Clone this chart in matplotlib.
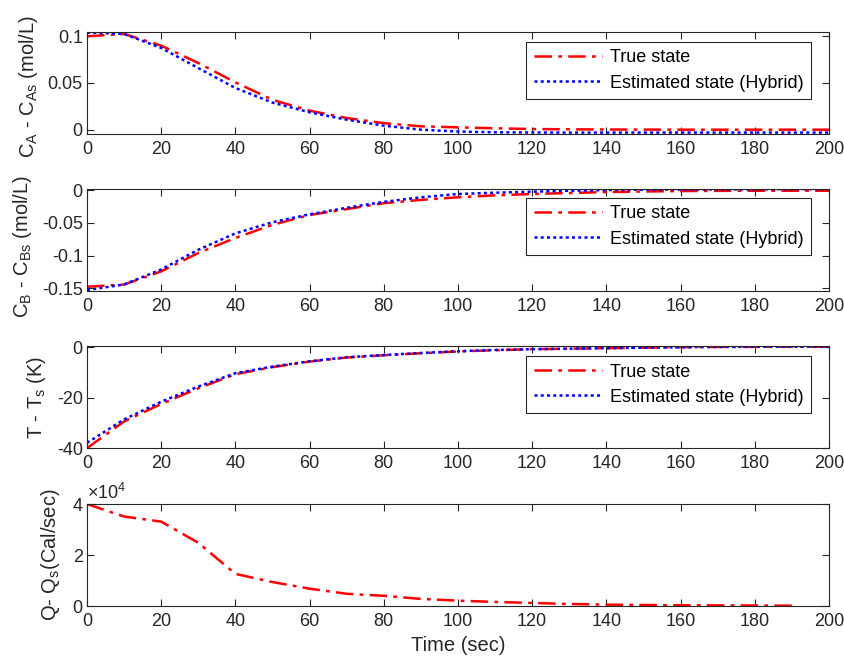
import numpy as np
import matplotlib
matplotlib.use('Agg')
import matplotlib.pyplot as plt

plt.rcParams['font.family'] = ['Liberation Sans', 'DejaVu Sans']
plt.rcParams['mathtext.fontset'] = 'custom'
plt.rcParams['mathtext.rm'] = 'Liberation Sans'
plt.rcParams['mathtext.it'] = 'Liberation Sans'
plt.rcParams['axes.unicode_minus'] = False

t = np.arange(0, 201, 10)
t_q = np.arange(0, 191, 10)

ca_true = [0.100, 0.1025, 0.090, 0.0714, 0.0507, 0.032, 0.0204, 0.0125, 0.007, 0.0036, 0.0025,
           0.0015, 0.0007, 0.0004, 0.0002, 0.0001, 0.0, 0.0, 0.0, 0.0, 0.0]
ca_est = [0.104, 0.1025, 0.0875, 0.066, 0.0446, 0.029, 0.0186, 0.0107, 0.0043, 0.0, -0.002,
          -0.0028, -0.003, -0.0031, -0.0031, -0.0031, -0.0031, -0.0031, -0.0031, -0.0031, -0.0031]

cb_true = [-0.1475, -0.144, -0.124, -0.096, -0.073, -0.053, -0.038, -0.029, -0.020, -0.015, -0.011,
           -0.008, -0.006, -0.0045, -0.003, -0.0022, -0.0015, -0.0012, -0.001, -0.001, -0.001]
cb_est = [-0.1525, -0.144, -0.121, -0.091, -0.066, -0.049, -0.037, -0.027, -0.018, -0.011, -0.006,
          -0.004, -0.0025, -0.001, 0.0, 0.0005, 0.0008, 0.001, 0.0012, 0.0014, 0.0015]

t_true = [-40.0, -29.4, -22.5, -16.3, -10.7, -7.9, -5.7, -4.1, -3.2, -2.4, -1.7,
          -1.2, -0.8, -0.6, -0.4, -0.2, 0.0, 0.1, 0.15, 0.2, 0.2]
t_est = [-37.9, -28.6, -21.6, -15.6, -10.3, -7.7, -5.6, -4.0, -3.1, -2.3, -1.6,
         -1.1, -0.8, -0.6, -0.4, -0.2, 0.0, 0.1, 0.15, 0.2, 0.2]

q = [40000, 35100, 33100, 24800, 12600, 9400, 6800, 4800, 4000, 2800, 2100,
     1600, 1200, 800, 530, 400, 300, 260, 200, 130]

ink = '#262626'
red_ls = (0, (7, 2.5, 1.5, 2.5))
blue_ls = (0, (1.2, 1.3))
fs_tick = 13
fs_lab = 14.5

fig = plt.figure(figsize=(8.45, 6.6), dpi=100)
left, width, h = 0.103, 0.878, 0.1545
bottoms = [0.797, 0.559, 0.321, 0.0818]
axes = [fig.add_axes([left, b, width, h]) for b in bottoms]

def style(ax):
    ax.set_xlim(0, 200)
    ax.set_xticks(np.arange(0, 201, 20))
    ax.tick_params(direction='in', top=True, right=True, labelsize=fs_tick,
                   colors=ink, length=5, width=0.8, pad=3)
    ax.tick_params(axis='x', pad=5)
    for s in ax.spines.values():
        s.set_color(ink)
        s.set_linewidth(0.8)

def legend(ax, yoff):
    leg = ax.legend(loc='upper right', bbox_to_anchor=(0.976, yoff), fontsize=fs_tick,
                    fancybox=False, framealpha=1, edgecolor=ink, handlelength=3.8,
                    borderpad=0.4, labelspacing=0.45, handletextpad=0.45, borderaxespad=0)
    leg.get_frame().set_linewidth(0.8)

ax = axes[0]
ax.plot(t, ca_true, color='red', lw=1.8, ls=red_ls, label='True state')
ax.plot(t, ca_est, color='blue', lw=1.8, ls=blue_ls, label='Estimated state (Hybrid)')
ax.set_ylim(-0.0046, 0.1046)
ax.set_yticks([0, 0.05, 0.1])
ax.set_yticklabels(['0', '0.05', '0.1'])
ax.set_ylabel(r'C$_\mathregular{A}$ - C$_\mathregular{As}$ (mol/L)', fontsize=fs_lab, color=ink)
style(ax)
legend(ax, 0.90)

ax = axes[1]
ax.plot(t, cb_true, color='red', lw=1.8, ls=red_ls, label='True state')
ax.plot(t, cb_est, color='blue', lw=1.8, ls=blue_ls, label='Estimated state (Hybrid)')
ax.set_ylim(-0.154, 0.0015)
ax.set_yticks([-0.15, -0.1, -0.05, 0])
ax.set_yticklabels(['-0.15', '-0.1', '-0.05', '0'])
ax.set_ylabel(r'C$_\mathregular{B}$ - C$_\mathregular{Bs}$ (mol/L)', fontsize=fs_lab, color=ink)
style(ax)
legend(ax, 0.91)

ax = axes[2]
ax.plot(t, t_true, color='red', lw=1.8, ls=red_ls, label='True state')
ax.plot(t, t_est, color='blue', lw=1.8, ls=blue_ls, label='Estimated state (Hybrid)')
ax.set_ylim(-40, 0.4)
ax.set_yticks([-40, -20, 0])
ax.set_ylabel(r'T - T$_\mathregular{s}$ (K)', fontsize=fs_lab, color=ink)
style(ax)
legend(ax, 0.90)

ax = axes[3]
ax.plot(t_q, q, color='red', lw=1.8, ls=red_ls)
ax.set_ylim(0, 40000)
ax.set_yticks([0, 20000, 40000])
ax.set_yticklabels(['0', '2', '4'])
ax.text(0, 1.01, r'$\times$10$^\mathregular{4}$', transform=ax.transAxes,
        fontsize=fs_tick, color=ink, va='bottom', ha='left')
ax.set_ylabel(r'Q- Q$_\mathregular{s}$(Cal/sec)', fontsize=fs_lab, color=ink)
ax.set_xlabel('Time (sec)', fontsize=fs_lab, color=ink, labelpad=4)
style(ax)

axes[0].yaxis.set_label_coords(-0.064, 0.47)
axes[1].yaxis.set_label_coords(-0.072, 0.44)
axes[2].yaxis.set_label_coords(-0.052, 0.5)
axes[3].yaxis.set_label_coords(-0.034, 0.5)

fig.savefig('out.png', dpi=100)
